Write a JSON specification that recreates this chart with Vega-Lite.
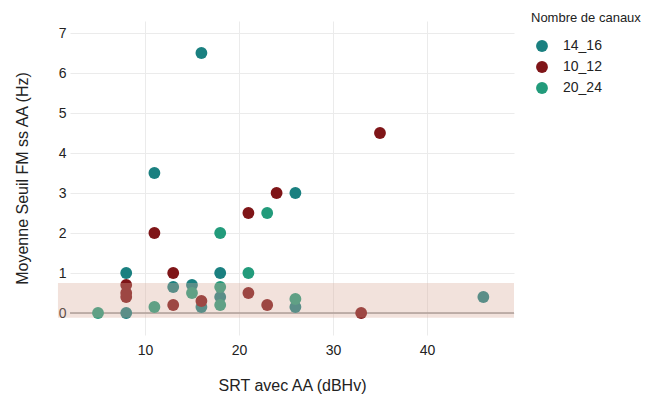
{
  "$schema": "https://vega.github.io/schema/vega-lite/v6.json",
  "autosize": {"type": "none"},
  "width": 444,
  "height": 314,
  "padding": {"left": 70, "top": 21, "right": 136, "bottom": 65},
  "background": "white",
  "config": {
    "font": "Liberation Sans",
    "view": {"stroke": null},
    "axis": {"gridColor": "#ebebeb", "gridWidth": 1, "domain": false, "ticks": false, "labelColor": "#222", "titleColor": "#222", "labelFontSize": 14, "titleFontSize": 16, "titleFontWeight": "normal"}
  },
  "datasets": {
    "pts": [
      {"srt": 16, "fm": 6.5, "canaux": "14_16"},
      {"srt": 11, "fm": 3.5, "canaux": "14_16"},
      {"srt": 26, "fm": 3, "canaux": "14_16"},
      {"srt": 8, "fm": 1, "canaux": "14_16"},
      {"srt": 18, "fm": 1, "canaux": "14_16"},
      {"srt": 8, "fm": 0, "canaux": "14_16"},
      {"srt": 13, "fm": 0.65, "canaux": "14_16"},
      {"srt": 15, "fm": 0.7, "canaux": "14_16"},
      {"srt": 16, "fm": 0.15, "canaux": "14_16"},
      {"srt": 18, "fm": 0.4, "canaux": "14_16"},
      {"srt": 26, "fm": 0.15, "canaux": "14_16"},
      {"srt": 46, "fm": 0.4, "canaux": "14_16"},
      {"srt": 35, "fm": 4.5, "canaux": "10_12"},
      {"srt": 24, "fm": 3, "canaux": "10_12"},
      {"srt": 21, "fm": 2.5, "canaux": "10_12"},
      {"srt": 11, "fm": 2, "canaux": "10_12"},
      {"srt": 13, "fm": 1, "canaux": "10_12"},
      {"srt": 8, "fm": 0.7, "canaux": "10_12"},
      {"srt": 8, "fm": 0.5, "canaux": "10_12"},
      {"srt": 8, "fm": 0.4, "canaux": "10_12"},
      {"srt": 13, "fm": 0.2, "canaux": "10_12"},
      {"srt": 16, "fm": 0.3, "canaux": "10_12"},
      {"srt": 21, "fm": 0.5, "canaux": "10_12"},
      {"srt": 23, "fm": 0.2, "canaux": "10_12"},
      {"srt": 33, "fm": 0, "canaux": "10_12"},
      {"srt": 23, "fm": 2.5, "canaux": "20_24"},
      {"srt": 18, "fm": 2, "canaux": "20_24"},
      {"srt": 21, "fm": 1, "canaux": "20_24"},
      {"srt": 5, "fm": 0, "canaux": "20_24"},
      {"srt": 11, "fm": 0.15, "canaux": "20_24"},
      {"srt": 15, "fm": 0.5, "canaux": "20_24"},
      {"srt": 18, "fm": 0.65, "canaux": "20_24"},
      {"srt": 18, "fm": 0.2, "canaux": "20_24"},
      {"srt": 26, "fm": 0.35, "canaux": "20_24"}
    ],
    "band": [{"x1": 0.74, "x2": 49.26, "y1": -0.12, "y2": 0.75}],
    "zero": [{"y": 0}]
  },
  "layer": [
    {
      "data": {"name": "zero"},
      "mark": {"type": "rule", "color": "#999999", "strokeWidth": 1.5},
      "encoding": {"y": {"field": "y", "type": "quantitative"}}
    },
    {
      "data": {"name": "pts"},
      "mark": {"type": "circle", "size": 140, "opacity": 1},
      "encoding": {
        "x": {"field": "srt", "type": "quantitative", "scale": {"domain": [2.02, 49.26], "nice": false, "zero": false},
              "axis": {"values": [10, 20, 30, 40], "title": "SRT avec AA (dBHv)", "labelPadding": 8, "titlePadding": 20}},
        "y": {"field": "fm", "type": "quantitative", "scale": {"domain": [-0.55, 7.3], "nice": false, "zero": false},
              "axis": {"values": [0, 1, 2, 3, 4, 5, 6, 7], "title": "Moyenne Seuil FM ss AA (Hz)", "labelPadding": 4, "titlePadding": 28}},
        "color": {"field": "canaux", "type": "nominal", "title": "Nombre de canaux",
                  "scale": {"domain": ["14_16", "10_12", "20_24"], "range": ["#1a8080", "#7f1518", "#229b7b"]},
                  "legend": {"orient": "none", "legendX": 461, "legendY": -9, "titleFontSize": 13, "titleFontWeight": "normal", "titleColor": "#222", "labelFontSize": 14, "labelColor": "#222", "symbolType": "circle", "symbolSize": 140, "symbolOffset": 4, "labelOffset": 14, "rowPadding": 7, "titlePadding": 14, "padding": 0}}
      }
    },
    {
      "data": {"name": "band"},
      "mark": {"type": "rect", "color": "#d8a997", "opacity": 0.34},
      "encoding": {
        "x": {"field": "x1", "type": "quantitative"},
        "x2": {"field": "x2"},
        "y": {"field": "y1", "type": "quantitative"},
        "y2": {"field": "y2"}
      }
    }
  ]
}
